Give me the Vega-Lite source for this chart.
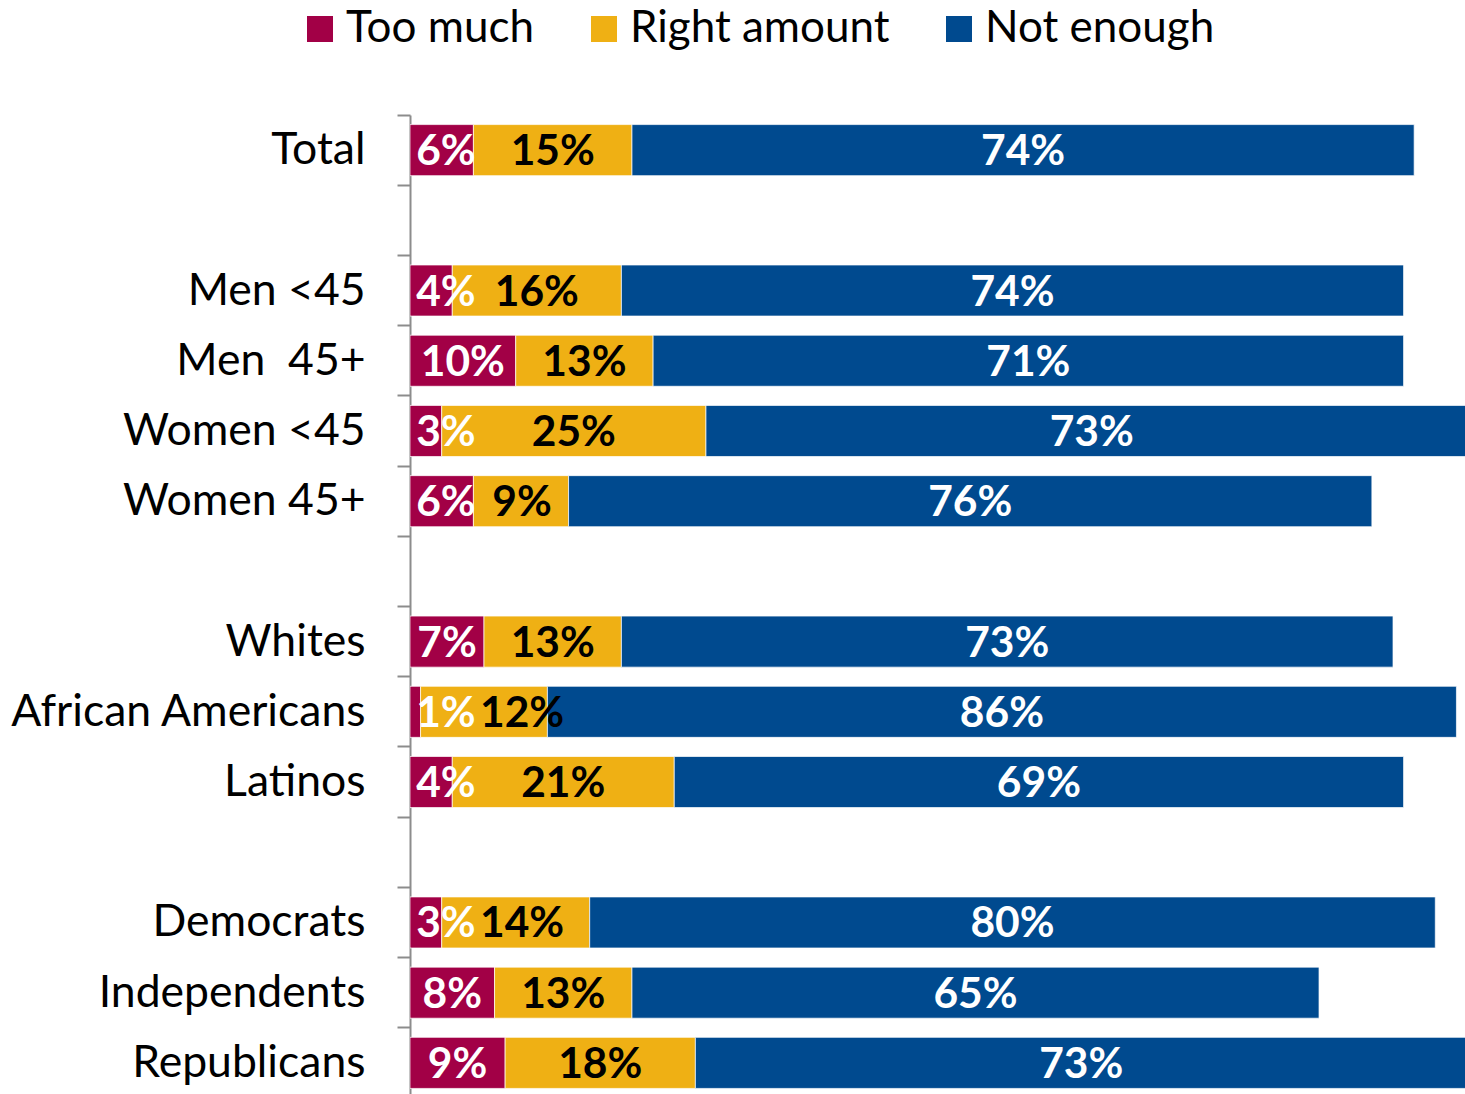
{
  "$schema": "https://vega.github.io/schema/vega-lite/v6.json",
  "autosize": {"type": "none"},
  "padding": {"left": 410, "top": 115, "right": 0, "bottom": 0},
  "width": 1057,
  "height": 983,
  "background": "white",
  "config": {
    "view": {"stroke": null},
    "font": "Lato"
  },
  "data": {
    "values": [
      {"group": "Total", "response": "Too much", "value": 6},
      {"group": "Total", "response": "Right amount", "value": 15},
      {"group": "Total", "response": "Not enough", "value": 74},
      {"group": "Men <45", "response": "Too much", "value": 4},
      {"group": "Men <45", "response": "Right amount", "value": 16},
      {"group": "Men <45", "response": "Not enough", "value": 74},
      {"group": "Men \u00a045+", "response": "Too much", "value": 10},
      {"group": "Men \u00a045+", "response": "Right amount", "value": 13},
      {"group": "Men \u00a045+", "response": "Not enough", "value": 71},
      {"group": "Women <45", "response": "Too much", "value": 3},
      {"group": "Women <45", "response": "Right amount", "value": 25},
      {"group": "Women <45", "response": "Not enough", "value": 73},
      {"group": "Women 45+", "response": "Too much", "value": 6},
      {"group": "Women 45+", "response": "Right amount", "value": 9},
      {"group": "Women 45+", "response": "Not enough", "value": 76},
      {"group": "Whites", "response": "Too much", "value": 7},
      {"group": "Whites", "response": "Right amount", "value": 13},
      {"group": "Whites", "response": "Not enough", "value": 73},
      {"group": "African Americans", "response": "Too much", "value": 1},
      {"group": "African Americans", "response": "Right amount", "value": 12},
      {"group": "African Americans", "response": "Not enough", "value": 86},
      {"group": "Latinos", "response": "Too much", "value": 4},
      {"group": "Latinos", "response": "Right amount", "value": 21},
      {"group": "Latinos", "response": "Not enough", "value": 69},
      {"group": "Democrats", "response": "Too much", "value": 3},
      {"group": "Democrats", "response": "Right amount", "value": 14},
      {"group": "Democrats", "response": "Not enough", "value": 80},
      {"group": "Independents", "response": "Too much", "value": 8},
      {"group": "Independents", "response": "Right amount", "value": 13},
      {"group": "Independents", "response": "Not enough", "value": 65},
      {"group": "Republicans", "response": "Too much", "value": 9},
      {"group": "Republicans", "response": "Right amount", "value": 18},
      {"group": "Republicans", "response": "Not enough", "value": 73}
    ]
  },
  "transform": [
    {"calculate": "indexof(['Too much', 'Right amount', 'Not enough'], datum.response)", "as": "rank"},
    {"stack": "value", "groupby": ["group"], "sort": [{"field": "rank", "order": "ascending"}], "as": ["x0", "x1"]},
    {"calculate": "(datum.x0 + datum.x1) / 2", "as": "mid"},
    {"calculate": "datum.response === 'Too much' ? max(datum.mid, 3.4) : datum.response === 'Right amount' ? max(datum.mid, 10.6) : datum.mid", "as": "labelX"},
    {"calculate": "datum.value + '%'", "as": "label"}
  ],
  "encoding": {
    "y": {
      "field": "group",
      "type": "nominal",
      "title": null,
      "scale": {
        "domain": ["Total", " ", "Men <45", "Men \u00a045+", "Women <45", "Women 45+", "  ", "Whites", "African Americans", "Latinos", "   ", "Democrats", "Independents", "Republicans"],
        "paddingInner": 0,
        "paddingOuter": 0
      },
      "axis": {
        "bandPosition": 0,
        "domainColor": "#8c8c8c",
        "domainWidth": 2,
        "tickColor": "#8c8c8c",
        "tickWidth": 2,
        "tickSize": 13,
        "labelPadding": 32,
        "labelFontSize": 44.5,
        "labelFont": "Lato",
        "labelColor": "#000000",
        "labelLimit": 500,
        "labelOffset": 1
      }
    }
  },
  "layer": [
    {
      "mark": {"type": "bar", "height": {"band": 0.727}, "stroke": "#ffffff", "strokeWidth": 1, "strokeOpacity": 0.7, "clip": true},
      "encoding": {
        "x": {"field": "x0", "type": "quantitative", "scale": {"domain": [0, 100], "nice": false}, "axis": null},
        "x2": {"field": "x1"},
        "color": {
          "field": "response",
          "type": "nominal",
          "scale": {"domain": ["Too much", "Right amount", "Not enough"], "range": ["#a20046", "#efb014", "#004a8f"]},
          "legend": {
            "title": null,
            "orient": "none",
            "direction": "horizontal",
            "legendX": -112,
            "legendY": -108,
            "symbolType": "square",
            "symbolSize": 676,
            "symbolStrokeWidth": 0,
            "labelFontSize": 44,
            "labelFont": "Lato",
            "labelColor": "#000000",
            "labelOffset": 4,
            "columnPadding": 47,
            "labelLimit": 400
          }
        }
      }
    },
    {
      "mark": {"type": "text", "fontSize": 42.5, "fontWeight": "bold", "font": "Lato", "baseline": "middle", "dy": 2},
      "encoding": {
        "x": {"field": "labelX", "type": "quantitative"},
        "text": {"field": "label"},
        "color": {"condition": {"test": "datum.response === 'Right amount'", "value": "#000000"}, "value": "#ffffff"}
      }
    }
  ]
}
